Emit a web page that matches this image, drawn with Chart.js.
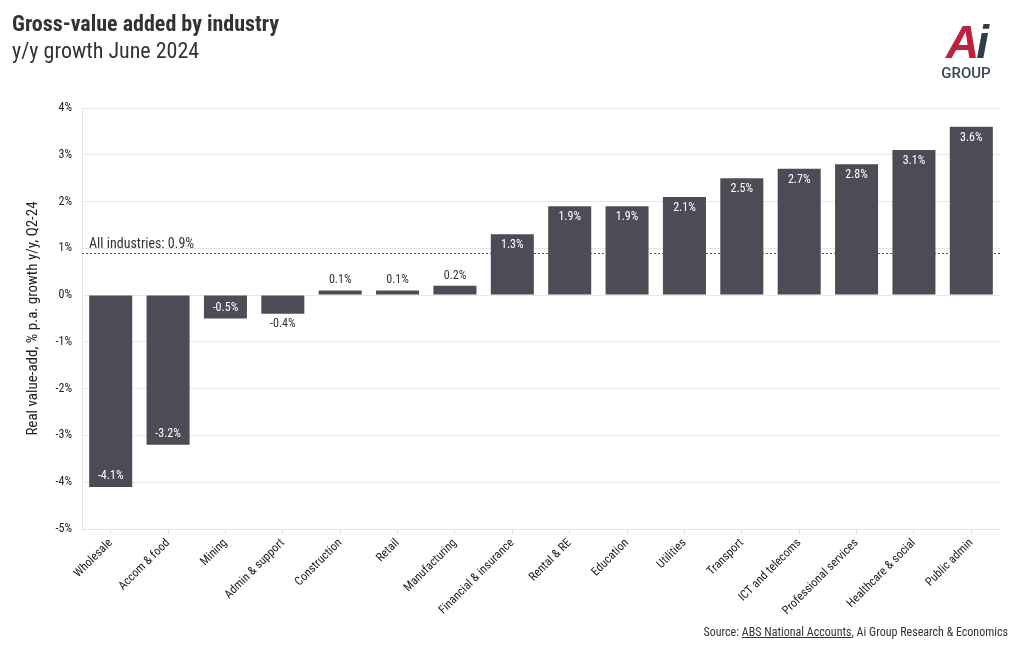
<!DOCTYPE html>
<html>
<head>
<meta charset="utf-8">
<script src="https://cdn.jsdelivr.net/npm/chart.js@4.4.1/dist/chart.umd.min.js"></script>
<style>
  body { margin: 0; background: #fff; font-family: "Roboto Condensed", Roboto, sans-serif; }
  #wrap { position: relative; width: 1020px; height: 650px; overflow: hidden; }
  #chart { position: absolute; left: 0; top: 0; }
  .title { position: absolute; left: 12px; top: 11px; font-size: 22px; font-weight: bold; color: #333; white-space: nowrap; }
  .sub { position: absolute; left: 12px; top: 38px; font-size: 22px; color: #333; white-space: nowrap; }
  .logo { position: absolute; left: 934px; top: 18px; width: 64px; text-align: center; }
  .logo .ai { font-family: "Liberation Sans", Arial, sans-serif; font-size: 46px; font-weight: bold; font-style: italic; line-height: 48px; letter-spacing: -3px; }
  .logo .a { color: #c0203a; }
  .logo .i { color: #2f3d4a; }
  .logo .grp { font-family: Roboto, "Liberation Sans", sans-serif; font-size: 15px; font-weight: 500; color: #3a4650; line-height: 14px; }
  .source { position: absolute; right: 12px; top: 625px; font-size: 12px; color: #333; white-space: nowrap; }
  .source u { text-decoration: underline; }
</style>
</head>
<body>
<div id="wrap">
  <canvas id="chart" width="1020" height="650"></canvas>
  <div class="title">Gross-value added by industry</div>
  <div class="sub">y/y growth June 2024</div>
  <div class="logo"><div class="ai"><span class="a">A</span><span class="i">i</span></div><div class="grp">GROUP</div></div>
  <div class="source">Source: <u>ABS National Accounts</u>, Ai Group Research &amp; Economics</div>
</div>
<script>
// data
const industries = [
  "Wholesale", "Accom & food", "Mining", "Admin & support", "Construction",
  "Retail", "Manufacturing", "Financial & insurance", "Rental & RE", "Education",
  "Utilities", "Transport", "ICT and telecoms", "Professional services",
  "Healthcare & social", "Public admin",
];
const growth = [-4.1, -3.2, -0.5, -0.4, 0.1, 0.1, 0.2, 1.3, 1.9, 1.9, 2.1, 2.5, 2.7, 2.8, 3.1, 3.6];
const allIndustries = 0.9;
const yTicks = [4, 3, 2, 1, 0, -1, -2, -3, -4, -5];

const fontFamily = "'Roboto Condensed', Roboto, sans-serif";
const barColor = "#4d4c56";

// value labels on the bars
const barLabels = {
  id: "barLabels",
  afterDatasetsDraw(chart) {
    const ctx = chart.ctx;
    const meta = chart.getDatasetMeta(0);
    ctx.save();
    ctx.font = "12px " + fontFamily;
    ctx.textAlign = "center";
    ctx.textBaseline = "middle";
    meta.data.forEach((bar, i) => {
      const v = growth[i];
      const txt = v.toFixed(1) + "%";
      const inside = Math.abs(v) >= 0.5;
      let y;
      if (v >= 0) {
        y = inside ? bar.y + 11 : bar.y - 10;
      } else {
        y = inside ? bar.y - 11 : bar.y + 10;
      }
      ctx.fillStyle = inside ? "#fff" : "#333";
      ctx.fillText(txt, bar.x, y);
    });
    ctx.restore();
  },
};

// all industries dotted line
const refLine = {
  id: "refLine",
  afterDatasetsDraw(chart) {
    const ctx = chart.ctx;
    const area = chart.chartArea;
    const y = chart.scales.y.getPixelForValue(allIndustries);
    ctx.save();
    ctx.strokeStyle = "#555";
    ctx.lineWidth = 1;
    ctx.setLineDash([2, 2]);
    ctx.beginPath();
    ctx.moveTo(area.left, y + 0.5);
    ctx.lineTo(area.right, y + 0.5);
    ctx.stroke();
    ctx.setLineDash([]);
    ctx.font = "14px " + fontFamily;
    ctx.fillStyle = "#333";
    ctx.textAlign = "left";
    ctx.textBaseline = "alphabetic";
    ctx.fillText("All industries: " + allIndustries + "%", area.left + 7, y - 5);
    ctx.restore();
  },
};

new Chart(document.getElementById("chart"), {
  type: "bar",
  data: {
    labels: industries,
    datasets: [{
      data: growth,
      backgroundColor: barColor,
      borderWidth: 0,
      categoryPercentage: 1,
      barPercentage: 0.75,
    }],
  },
  options: {
    responsive: false,
    animation: false,
    layout: { padding: { left: 20, right: 20, top: 108, bottom: 0 } },
    plugins: { legend: { display: false }, tooltip: { enabled: false } },
    scales: {
      x: {
        grid: { drawOnChartArea: false, offset: false, color: "#e3e3e3", tickLength: 6 },
        border: { color: "#e3e3e3" },
        ticks: {
          minRotation: 45, maxRotation: 45, autoSkip: false,
          color: "#222", font: { family: fontFamily, size: 12 }, padding: 1,
        },
        afterFit(scale) { scale.height = 121; },
      },
      y: {
        min: -5, max: 4,
        afterBuildTicks(scale) { scale.ticks = yTicks.map((v) => ({ value: v })); },
        grid: { color: "#e8e8e8", drawTicks: false },
        border: { color: "#e3e3e3" },
        ticks: {
          color: "#222", font: { family: fontFamily, size: 12 }, padding: 10,
          callback: (v) => v + "%",
        },
        title: {
          display: true, text: "Real value-add, % p.a. growth y/y, Q2-24",
          color: "#222", font: { family: fontFamily, size: 15 }, padding: { bottom: 8 },
        },
        afterFit(scale) { scale.width = 62; },
      },
    },
  },
  plugins: [barLabels, refLine],
});
</script>
</body>
</html>
